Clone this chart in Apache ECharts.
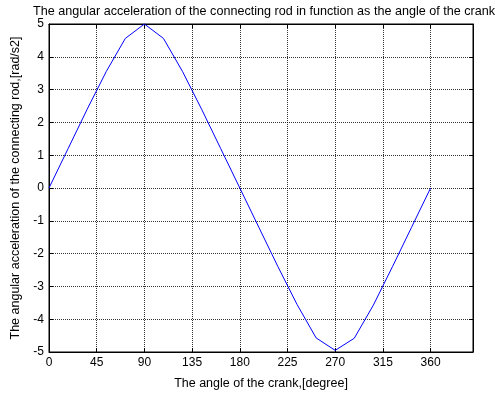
<!DOCTYPE html>
<html>
<head>
<meta charset="utf-8">
<script src="https://cdn.jsdelivr.net/npm/echarts@6/dist/echarts.min.js"></script>
<style>
  html, body { margin: 0; padding: 0; background: #fff; }
  #chart { width: 495px; height: 395px; }
</style>
</head>
<body>
<div id="chart"></div>
<script>
// crank angle (degree) and angular acceleration of the connecting rod (rad/s2)
const crankAngles = [0, 18, 36, 54, 72, 90, 108, 126, 144, 162, 180,
                     198, 216, 234, 252, 270, 288, 306, 324, 342, 360]
const rodAccel = [0, 1.2, 2.4, 3.55, 4.56, 5, 4.56, 3.55, 2.4, 1.2, 0,
                  -1.2, -2.4, -3.55, -4.57, -4.95, -4.58, -3.57, -2.4, -1.2, 0]

const font = 'Liberation Sans, Arial, sans-serif'
const chart = echarts.init(document.getElementById('chart'), null, { renderer: 'canvas' })

const tickStyle = { inside: true, length: 4, lineStyle: { color: '#000', width: 1 } }
const gridLine = { show: true, lineStyle: { color: '#000', width: 1, type: [1, 1], opacity: 0.8 } }
const edgeLine = { show: true, onZero: false, lineStyle: { color: '#000', width: 1 } }

const option = {
  animation: false,
  title: {
    text: 'The angular acceleration of the connecting rod in function as the angle of the crank',
    left: 259,
    textAlign: 'center',
    top: 0,
    textStyle: { fontFamily: font, fontSize: 12.6, fontWeight: 'normal', color: '#000' }
  },
  grid: {
    left: 49,
    right: 22,
    top: 24,
    bottom: 39,
    show: true,
    borderColor: '#000',
    borderWidth: 1,
    backgroundColor: '#fff'
  },
  xAxis: [
    {
      type: 'value',
      min: 0,
      max: 400,
      interval: 45,
      name: 'The angle of the crank,[degree]',
      nameLocation: 'middle',
      nameGap: 25,
      nameTextStyle: { fontFamily: font, fontSize: 12.5, color: '#000' },
      axisLine: edgeLine,
      axisTick: tickStyle,
      axisLabel: {
        fontFamily: font, fontSize: 12, color: '#000', margin: 5,
        formatter: v => (v > 360 ? '' : String(v))
      },
      splitLine: gridLine
    },
    {
      type: 'value',
      position: 'top',
      min: 0,
      max: 400,
      interval: 45,
      axisLine: edgeLine,
      axisTick: tickStyle,
      axisLabel: { show: false },
      splitLine: { show: false }
    }
  ],
  yAxis: [
    {
      type: 'value',
      min: -5,
      max: 5,
      interval: 1,
      name: 'The angular acceleration of the connecting rod,[rad/s2]',
      nameLocation: 'middle',
      nameGap: 22,
      nameTextStyle: { fontFamily: font, fontSize: 12.5, color: '#000' },
      axisLine: edgeLine,
      axisTick: tickStyle,
      axisLabel: { fontFamily: font, fontSize: 12, color: '#000', margin: 5 },
      splitLine: gridLine
    },
    {
      type: 'value',
      position: 'right',
      min: -5,
      max: 5,
      interval: 1,
      axisLine: edgeLine,
      axisTick: tickStyle,
      axisLabel: { show: false },
      splitLine: { show: false }
    }
  ],
  series: [
    {
      type: 'line',
      data: crankAngles.map((a, i) => [a, rodAccel[i]]),
      showSymbol: false,
      symbol: 'none',
      lineStyle: { color: '#0000ff', width: 1 },
      itemStyle: { color: '#0000ff' }
    }
  ]
}

chart.setOption(option)
</script>
</body>
</html>
